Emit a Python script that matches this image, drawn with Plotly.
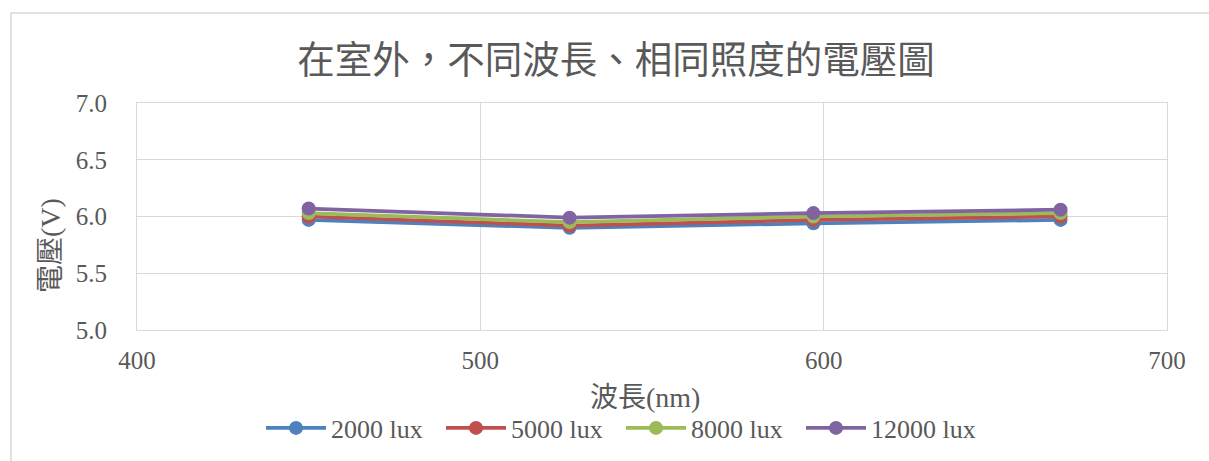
import plotly.graph_objects as go

# Wavelengths of the light sources (nm)
wavelengths = [450, 526, 597, 669]

# Measured voltage (V) for each illuminance level
series_names = ["2000 lux", "5000 lux", "8000 lux", "12000 lux"]
v_2000 = [5.97, 5.90, 5.94, 5.97]
v_5000 = [6.00, 5.92, 5.97, 6.00]
v_8000 = [6.03, 5.95, 6.00, 6.03]
v_12000 = [6.07, 5.99, 6.03, 6.06]

colors = ["#4F81BD", "#C0504D", "#9BBB59", "#8064A2"]

W, H = 1209, 461
L, R, T, B = 137, 42, 103, 131
pw, ph = W - L - R, H - T - B

def px_x(x):
    return (x - L) / pw

def px_y(y):
    return (H - B - y) / ph

serif = "Liberation Serif, Noto Sans CJK TC, serif"
grey = "#595959"
grid = "#d9d9d9"

# x position (px) where the text of each legend entry begins
legend_text_x = [330, 510, 690, 870]
symbol_w = 60

fig = go.Figure()
legend_layout = {}
for i, (name, vals, c) in enumerate(zip(series_names, [v_2000, v_5000, v_8000, v_12000], colors)):
    key = "legend" if i == 0 else f"legend{i + 1}"
    fig.add_trace(go.Scatter(
        x=wavelengths, y=vals, name=name, mode="lines+markers",
        line=dict(color=c, width=3.75),
        marker=dict(color=c, size=14),
        legend=key, showlegend=True,
    ))
    legend_layout[key] = dict(
        xref="container", yref="container",
        x=(legend_text_x[i] - symbol_w - 9) / W, xanchor="left",
        y=1 - 428 / H, yanchor="middle",
        font=dict(family=serif, size=26, color=grey),
        itemwidth=symbol_w, bgcolor="rgba(0,0,0,0)",
    )

fig.update_layout(
    width=W, height=H,
    margin=dict(l=L, r=R, t=T, b=B, autoexpand=False),
    paper_bgcolor="white", plot_bgcolor="white",
    showlegend=True,
    title=dict(
        text="在室外，不同波長、相同照度的電壓圖",
        x=616 / W, xref="container", xanchor="center",
        y=1 - 60 / H, yref="container", yanchor="middle",
        font=dict(family="Noto Sans CJK TC", size=37.5, color=grey),
    ),
    xaxis=dict(
        range=[400, 700], dtick=100, tick0=400,
        showgrid=True, gridcolor=grid, gridwidth=1,
        showline=True, linecolor=grid, linewidth=1, mirror=True,
        zeroline=False, ticks="", ticklabelstandoff=8,
        tickfont=dict(family=serif, size=25, color=grey),
    ),
    yaxis=dict(
        range=[5.0, 7.0], dtick=0.5, tick0=5.0, tickformat=".1f",
        showgrid=True, gridcolor=grid, gridwidth=1,
        showline=True, linecolor=grid, linewidth=1, mirror=True,
        zeroline=False, ticks="", ticklabelstandoff=24,
        tickfont=dict(family=serif, size=25, color=grey),
    ),
    annotations=[
        dict(text="波長(nm)", xref="paper", yref="paper",
             x=px_x(645), y=px_y(397), xanchor="center", yanchor="middle",
             showarrow=False, font=dict(family=serif, size=28, color=grey)),
        dict(text="電壓(V)", xref="paper", yref="paper", textangle=-90,
             x=px_x(50), y=px_y(246), xanchor="center", yanchor="middle",
             showarrow=False, font=dict(family=serif, size=28, color=grey)),
    ],
    shapes=[dict(
        type="rect", xref="paper", yref="paper",
        x0=px_x(11), x1=px_x(1215), y0=px_y(470), y1=px_y(13),
        line=dict(color=grid, width=1.5), fillcolor="rgba(0,0,0,0)",
        layer="below",
    )],
    **legend_layout,
)

fig.write_html("out.html")
